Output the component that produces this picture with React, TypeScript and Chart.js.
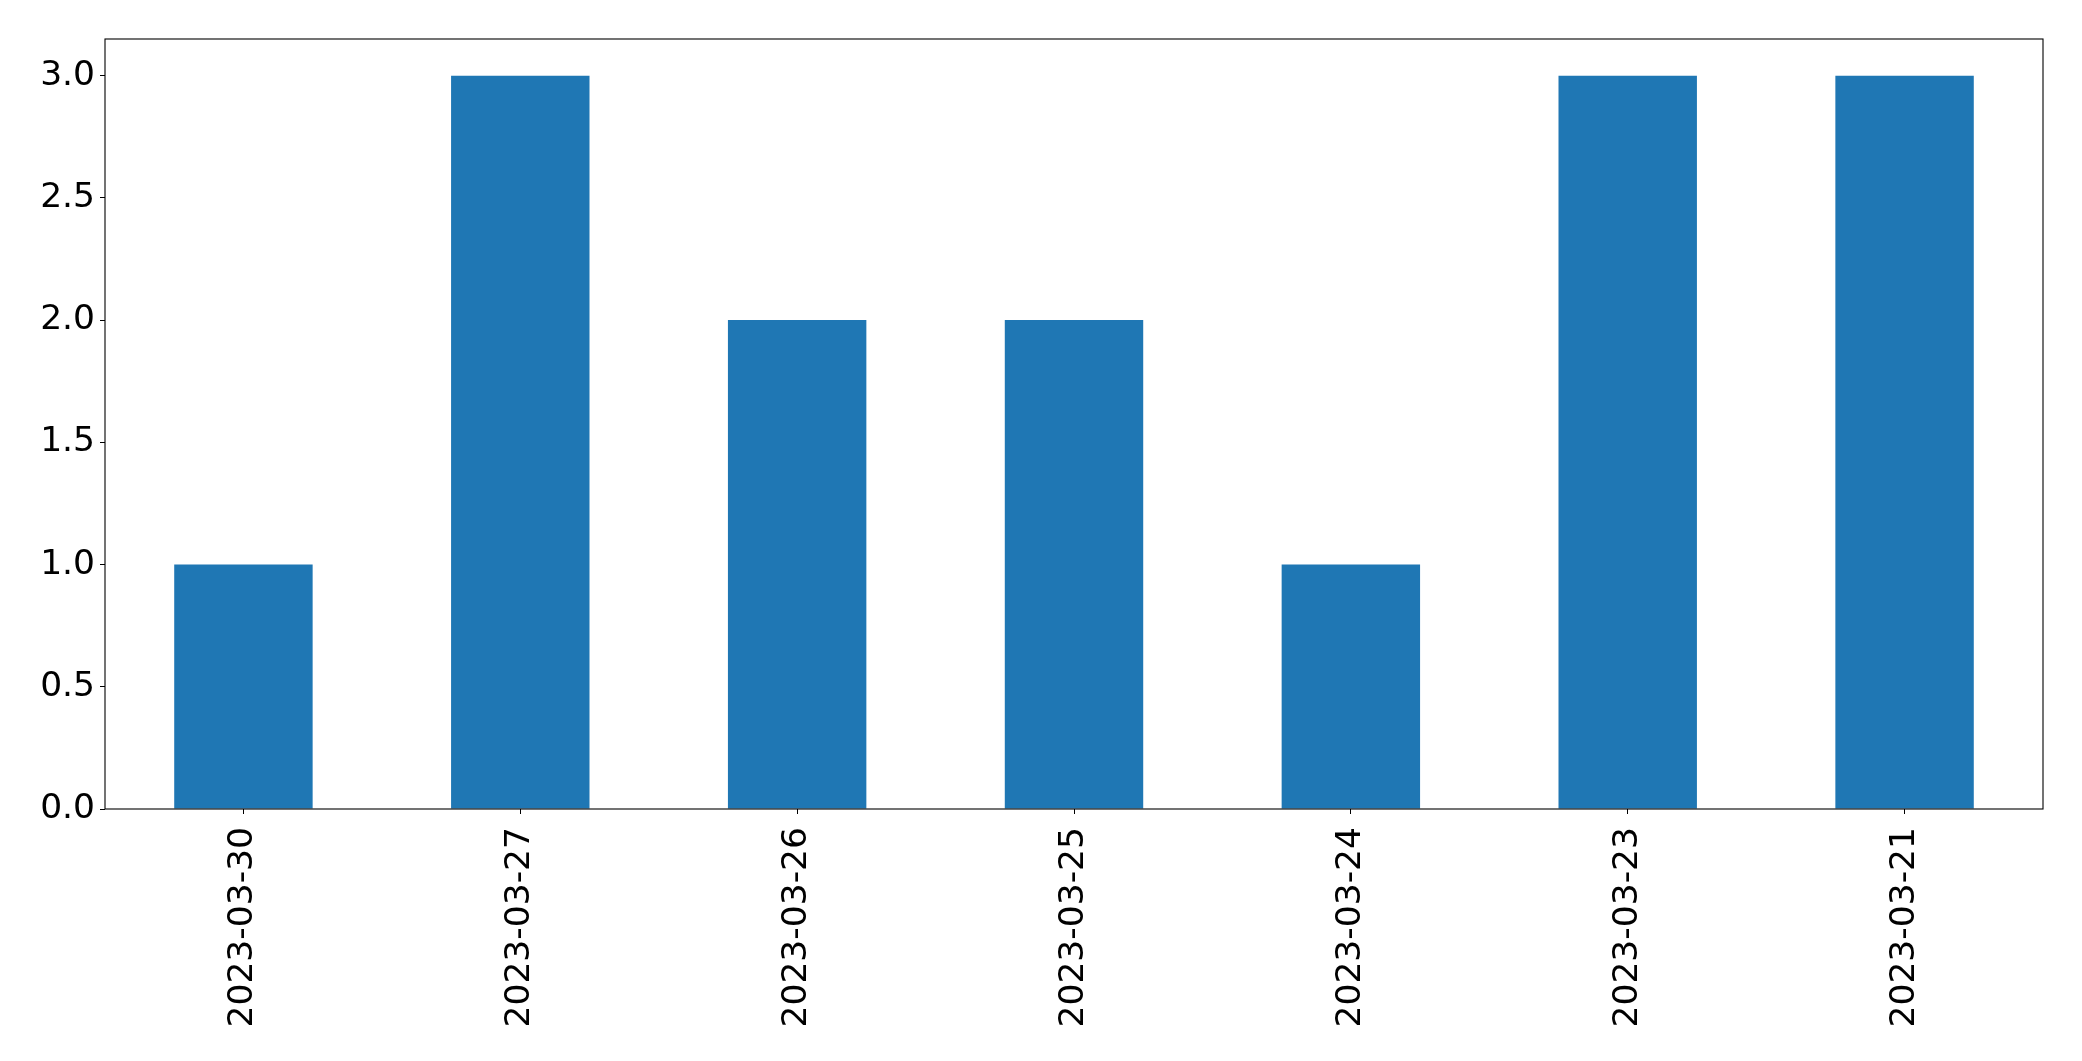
import React, { useEffect, useRef } from "react";
import { Chart, registerables } from "chart.js";

Chart.register(...registerables);

const categories = ["2023-03-30", "2023-03-27", "2023-03-26", "2023-03-25", "2023-03-24", "2023-03-23", "2023-03-21"];
const counts = [1, 3, 2, 2, 1, 3, 3];
const yTicks = [0, 0.5, 1.0, 1.5, 2.0, 2.5, 3.0];
const yMax = 3.15;

const W = 2082;
const H = 1061;
const FONT = "'DejaVu Sans', sans-serif";

const framePlugin = {
  id: "frame",
  afterDraw(chart: any) {
    const { ctx, chartArea } = chart;
    ctx.save();
    ctx.strokeStyle = "#000";
    ctx.lineWidth = 1.1;
    ctx.strokeRect(chartArea.left, chartArea.top, chartArea.right - chartArea.left, chartArea.bottom - chartArea.top);
    ctx.restore();
  },
};

export default function App() {
  const ref = useRef<HTMLCanvasElement>(null);
  useEffect(() => {
    if (!ref.current) return;
    const chart = new Chart(ref.current, {
      type: "bar",
      data: {
        labels: categories,
        datasets: [
          {
            data: counts,
            backgroundColor: "#1f77b4",
            borderWidth: 0,
            barPercentage: 0.5,
            categoryPercentage: 1,
          },
        ],
      },
      options: {
        animation: false,
        responsive: false,
        devicePixelRatio: 1,
        layout: { padding: { top: 39, right: 39, left: 0, bottom: 0 } },
        plugins: { legend: { display: false }, tooltip: { enabled: false } },
        scales: {
          x: {
            offset: true,
            grid: { display: true, drawOnChartArea: false, drawTicks: true, tickLength: 5, color: "#000", offset: false },
            border: { display: false },
            ticks: {
              color: "#000",
              font: { family: FONT, size: 34.5 },
              minRotation: 90,
              maxRotation: 90,
              autoSkip: false,
              padding: 13,
            },
            afterFit(scale: any) {
              scale.height = 252;
            },
          },
          y: {
            min: 0,
            max: yMax,
            grid: { display: true, drawOnChartArea: false, drawTicks: true, tickLength: 5, color: "#000" },
            border: { display: false },
            ticks: {
              color: "#000",
              font: { family: FONT, size: 34.5 },
              padding: 5,
              callback: (v: any) => Number(v).toFixed(1),
            },
            afterBuildTicks(scale: any) {
              scale.ticks = yTicks.map((v) => ({ value: v }));
            },
            afterFit(scale: any) {
              scale.width = 105;
            },
          },
        },
      },
      plugins: [framePlugin],
    });
    return () => chart.destroy();
  }, []);
  return (
    <div style={{ position: "fixed", left: 0, top: 0, width: W, height: H, background: "#fff" }}>
      <canvas ref={ref} width={W} height={H} />
    </div>
  );
}
